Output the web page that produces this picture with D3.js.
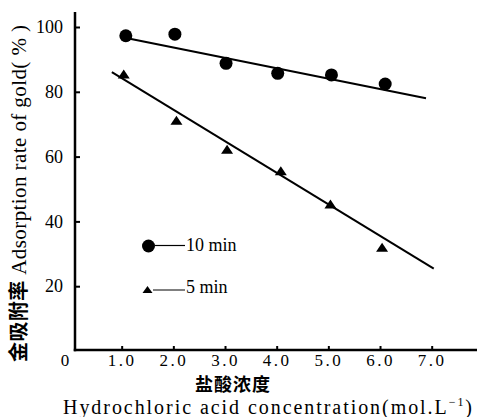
<!DOCTYPE html>
<html>
<head>
<meta charset="utf-8">
<script src="https://cdn.jsdelivr.net/npm/d3@7/dist/d3.min.js"></script>
<style>
  html, body { margin: 0; padding: 0; background: #fff; }
  svg { display: block; }
  .serif { font-family: "Liberation Serif", "DejaVu Serif", serif !important; fill: #000; }
  .cjk { font-family: "Noto Sans CJK SC", sans-serif !important; font-weight: 700; fill: #000; }
</style>
</head>
<body>
<svg id="chart" width="477" height="417"></svg>
<script>
// Gold adsorption rate vs. HCl concentration
const concentration10 = [1.08, 2.03, 3.02, 4.02, 5.06, 6.10];
const adsorption10    = [97.3, 97.8, 88.8, 85.7, 85.2, 82.4];
const concentration5  = [1.04, 2.06, 3.04, 4.08, 5.04, 6.04];
const adsorption5     = [85.5, 71.2, 62.3, 55.6, 45.4, 32.0];

// Straight-line trends, given by their end points
const fitX10 = [0.99, 6.89], fitY10 = [96.9, 78.0];
const fitX5  = [0.81, 7.04], fitY5  = [86.1, 25.4];

const xTicks = [1, 2, 3, 4, 5, 6, 7];
const yTicks = [20, 40, 60, 80, 100];
const legendLabels = ["10 min", "5 min"];

const svg = d3.select("#chart");

const x = d3.scaleLinear().domain([0, 8]).range([70, 70 + 8 * 51.67]);
const y = d3.scaleLinear().domain([0, 100]).range([351, 27]);

const axisX = 75, axisY = 350;

// Axis lines
svg.append("line").attr("x1", axisX).attr("x2", axisX)
  .attr("y1", 12).attr("y2", axisY + 1.25)
  .attr("stroke", "#000").attr("stroke-width", 2.5);
svg.append("line").attr("x1", axisX - 1.25).attr("x2", 477)
  .attr("y1", axisY).attr("y2", axisY)
  .attr("stroke", "#000").attr("stroke-width", 2.5);

// Y axis ticks (pointing inward)
const gy = svg.append("g").attr("transform", `translate(${axisX},0)`)
  .call(d3.axisLeft(y).tickValues(yTicks).tickSize(-5).tickSizeOuter(0).tickPadding(12));
gy.select(".domain").remove();
gy.selectAll(".tick line").attr("stroke", "#000").attr("stroke-width", 2);
gy.selectAll(".tick text").attr("class", "serif").style("font-size", "18px");

// X axis ticks (pointing inward)
const gx = svg.append("g").attr("transform", `translate(0,${axisY})`)
  .call(d3.axisBottom(x).tickValues(xTicks).tickSize(-4).tickSizeOuter(0)
    .tickPadding(0).tickFormat(d3.format(".1f")));
gx.select(".domain").remove();
gx.selectAll(".tick line").attr("stroke", "#000").attr("stroke-width", 2);
gx.selectAll(".tick text").attr("class", "serif").attr("y", 16).attr("dy", 0)
  .style("font-size", "17px").style("letter-spacing", "2.5px");

svg.append("text").attr("class", "serif")
  .attr("x", 65).attr("y", 366).attr("text-anchor", "middle")
  .style("font-size", "17px").text("0");

// Trend lines
const line = d3.line().x(d => x(d[0])).y(d => y(d[1]));
svg.append("path").datum(d3.zip(fitX10, fitY10)).attr("d", line)
  .attr("fill", "none").attr("stroke", "#000").attr("stroke-width", 2);
svg.append("path").datum(d3.zip(fitX5, fitY5)).attr("d", line)
  .attr("fill", "none").attr("stroke", "#000").attr("stroke-width", 2);

// Markers
svg.append("g").selectAll("circle").data(d3.zip(concentration10, adsorption10)).join("circle")
  .attr("cx", d => x(d[0])).attr("cy", d => y(d[1])).attr("r", 6.5).attr("fill", "#000");

const tri = (w, h) => `M0,${-h / 2}L${w / 2},${h / 2}L${-w / 2},${h / 2}Z`;
svg.append("g").selectAll("path").data(d3.zip(concentration5, adsorption5)).join("path")
  .attr("transform", d => `translate(${x(d[0])},${y(d[1])})`)
  .attr("d", tri(12, 9)).attr("fill", "#000");

// Legend
const lg = svg.append("g");
lg.append("circle").attr("cx", 148.5).attr("cy", 246).attr("r", 6.5).attr("fill", "#000");
lg.append("line").attr("x1", 155).attr("x2", 185).attr("y1", 245.5).attr("y2", 245.5)
  .attr("stroke", "#000").attr("stroke-width", 1.2);
lg.append("text").attr("class", "serif").attr("x", 186).attr("y", 251)
  .style("font-size", "18px").text(legendLabels[0]);
lg.append("path").attr("transform", "translate(147.5,289.5)").attr("d", tri(10, 7)).attr("fill", "#000");
lg.append("line").attr("x1", 153).attr("x2", 185).attr("y1", 290).attr("y2", 290)
  .attr("stroke", "#000").attr("stroke-width", 1);
lg.append("text").attr("class", "serif").attr("x", 186).attr("y", 293)
  .style("font-size", "18px").text(legendLabels[1]);

// Axis titles
const yTitle = svg.append("text").attr("transform", "translate(26,362) rotate(-90)")
  .attr("text-anchor", "start").attr("textLength", 337).attr("lengthAdjust", "spacing");
yTitle.append("tspan").attr("class", "cjk").style("font-size", "20px").text("金吸附率");
yTitle.append("tspan").attr("class", "serif").style("font-size", "21px").text(" Adsorption rate of gold( % )");

svg.append("text").attr("class", "cjk").attr("x", 233).attr("y", 391)
  .attr("text-anchor", "middle").style("font-size", "18px").style("letter-spacing", "1px")
  .text("盐酸浓度");

const xTitle = svg.append("text").attr("class", "serif").attr("x", 63).attr("y", 414)
  .style("font-size", "20px").attr("textLength", 409).attr("lengthAdjust", "spacing");
xTitle.append("tspan").text("Hydrochloric acid concentration(mol.L");
xTitle.append("tspan").attr("dy", -8).style("font-size", "12px").text("−1");
xTitle.append("tspan").attr("dy", 8).text(")");
</script>
</body>
</html>
